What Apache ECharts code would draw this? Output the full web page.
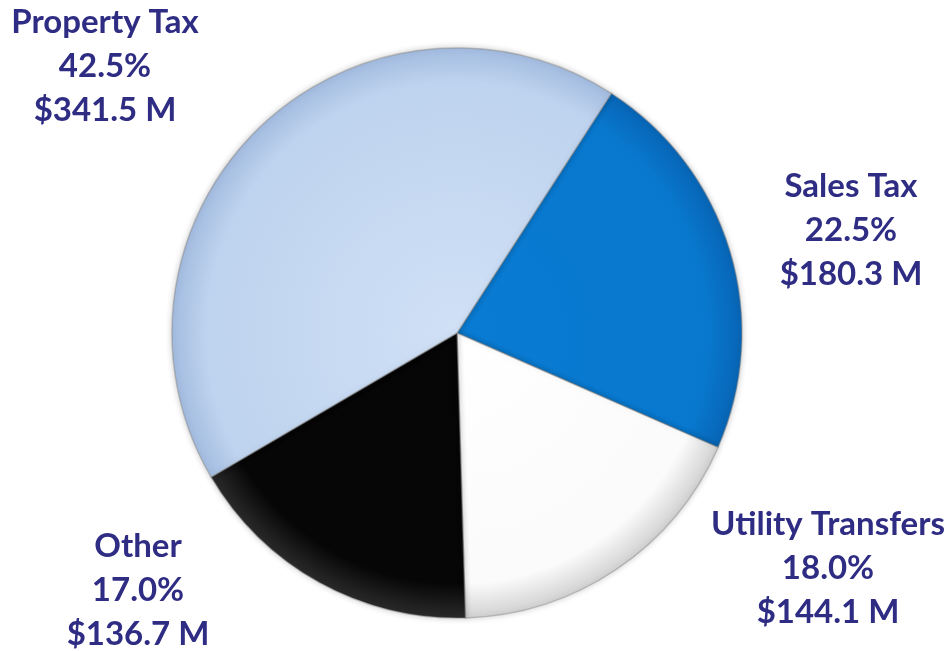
<!DOCTYPE html>
<html>
<head>
<meta charset="utf-8">
<script src="https://cdn.jsdelivr.net/npm/echarts@6/dist/echarts.min.js"></script>
<style>
  html, body { margin: 0; padding: 0; background: #fff; }
  #main { width: 951px; height: 651px; }
</style>
</head>
<body>
<div id="main"></div>
<script>
// revenue sources, $ millions (clockwise from the sales tax slice)
var categories = ['Sales Tax', 'Utility Transfers', 'Other', 'Property Tax']
var values = [180.3, 144.1, 136.7, 341.5]

// where each label block sits (centre x, centre y of the 3 lines)
var labelPos = [[851, 230], [828, 568], [138, 590], [105, 66]]

var cx = 457, cy = 333, radius = 285

function shade(inner, mid, edge) {
  return {
    type: 'radial', x: cx, y: cy, r: radius, global: true,
    colorStops: [
      { offset: 0, color: inner },
      { offset: 0.88, color: mid },
      { offset: 1, color: edge },
    ],
  }
}
var colors = [
  shade('#0a7bd3', '#0878ce', '#0865b5'),
  shade('#ffffff', '#fbfbfb', '#d2d2d2'),
  shade('#050505', '#060606', '#2a2a2a'),
  shade('#d0e1f6', '#bed3ee', '#a3bce0'),
]

var total = values.reduce(function (a, b) { return a + b }, 0)

var myChart = echarts.init(document.getElementById('main'))
var option = {
  backgroundColor: '#ffffff',
  series: [
    {
      type: 'pie',
      center: [cx, cy],
      radius: [0, radius],
      startAngle: 57.2,
      clockwise: true,
      avoidLabelOverlap: false,
      data: categories.map(function (name, i) {
        return {
          name: name,
          value: values[i],
          itemStyle: { color: colors[i] },
        }
      }),
      itemStyle: {
        borderColor: 'rgba(130,130,130,0.45)',
        borderWidth: 1.5,
        shadowColor: 'rgba(0,0,0,0.22)',
        shadowBlur: 6,
      },
      label: {
        show: true,
        position: 'outside',
        color: '#2e2c83',
        fontFamily: 'Lato',
        fontWeight: 'bold',
        fontSize: 33,
        lineHeight: 44,
        align: 'center',
        formatter: function (p) {
          var pct = (p.value / total * 100).toFixed(1)
          return p.name + '\n' + pct + '%\n$' + p.value.toFixed(1) + ' M'
        },
      },
      labelLine: { show: false },
      labelLayout: function (params) {
        var pos = labelPos[params.dataIndex]
        return { x: pos[0], y: pos[1], align: 'center', verticalAlign: 'middle' }
      },
      emphasis: { disabled: true },
      animation: false,
    },
  ],
}
myChart.setOption(option, true)
</script>
</body>
</html>
